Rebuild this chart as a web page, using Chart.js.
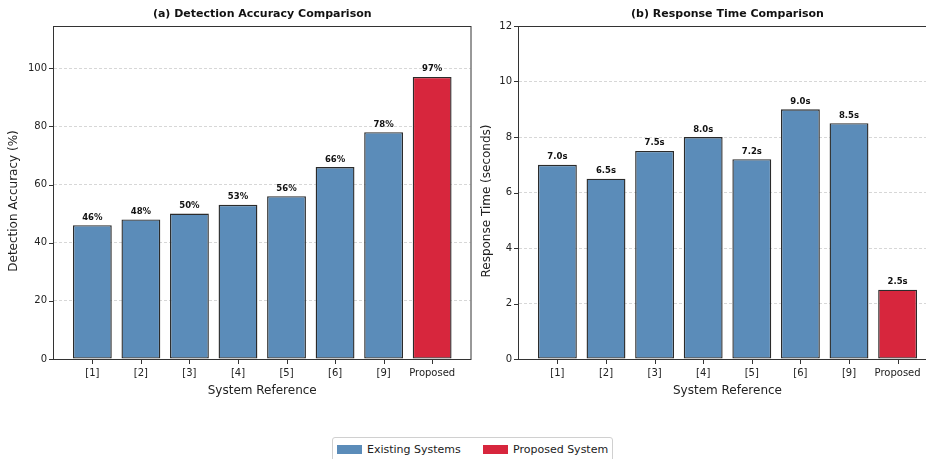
<!DOCTYPE html>
<html>
<head>
<meta charset="utf-8">
<script src="https://cdn.jsdelivr.net/npm/chart.js@4/dist/chart.umd.min.js"></script>
<style>
  html, body { margin: 0; padding: 0; background: #fff; overflow: hidden; width: 926px; height: 459px; }
  .panel { position: absolute; top: 0; }
  #legend {
    position: absolute; left: 332px; top: 437px; width: 279px; height: 30px;
    border: 1px solid #d0d0d0; border-radius: 3px; background: #fff;
    font-family: 'DejaVu Sans', sans-serif; font-size: 11px; color: #222;
  }
  #legend .item { position: absolute; top: 5px; height: 14px; line-height: 14px; white-space: nowrap; }
  #legend .swatch { position: absolute; top: 2px; left: 0; width: 25px; height: 9px; }
  #legend .label { position: absolute; left: 30px; top: 0; }
</style>
</head>
<body>
<div class="panel" style="left:0;width:472px;height:420px"><canvas id="accChart" width="472" height="420"></canvas></div>
<div class="panel" style="left:470px;width:466px;height:420px"><canvas id="timeChart" width="466" height="420"></canvas></div>
<div id="legend">
  <div class="item" style="left:4px"><span class="swatch" style="background:#5B8CB9"></span><span class="label">Existing Systems</span></div>
  <div class="item" style="left:150px"><span class="swatch" style="background:#D7263D"></span><span class="label">Proposed System</span></div>
</div>
<script>
// Systems compared
const categories = ['[1]', '[2]', '[3]', '[4]', '[5]', '[6]', '[9]', 'Proposed'];
// Detection accuracy per system (%)
const accuracy = [46, 48, 50, 53, 56, 66, 78, 97];
// Response time per system (seconds)
const responseTime = [7.0, 6.5, 7.5, 8.0, 7.2, 9.0, 8.5, 2.5];
// Y-axis tick values
const accuracyTicks = [0, 20, 40, 60, 80, 100];
const timeTicks = [0, 2, 4, 6, 8, 10, 12];

const EXISTING = '#5B8CB9';
const PROPOSED = '#D7263D';
const FONT = "'DejaVu Sans', sans-serif";

Chart.defaults.font.family = FONT;
Chart.defaults.color = '#222';

// Closed box around the plotting area, plus outward tick marks on both axes
const framePlugin = {
  id: 'frame',
  afterDatasetsDraw(chart) {
    const { ctx, chartArea: a, scales } = chart;
    const L = Math.round(a.left), T = Math.round(a.top), B = Math.round(a.bottom);
    ctx.save();
    ctx.setLineDash([]);
    ctx.strokeStyle = '#333';
    ctx.lineWidth = 1;
    ctx.strokeRect(L - 0.5, T + 0.5, Math.round(a.right) - L + 0.5, B - T);
    ctx.fillStyle = '#333';
    scales.x.ticks.forEach(t => {
      const x = Math.round(scales.x.getPixelForValue(t.value));
      ctx.fillRect(x, B + 1, 1, 4);
    });
    scales.y.ticks.forEach(t => {
      const y = Math.round(scales.y.getPixelForValue(t.value));
      ctx.fillRect(L - 5, y, 4, 1);
    });
    ctx.restore();
  }
};

// Value printed above every bar, and the rotated y-axis caption
const valueLabelPlugin = {
  id: 'valueLabels',
  afterDatasetsDraw(chart, args, opts) {
    const { ctx, chartArea: a } = chart;
    const meta = chart.getDatasetMeta(0);
    const data = chart.data.datasets[0].data;
    ctx.save();
    ctx.font = 'bold 8.5px ' + FONT;
    ctx.fillStyle = '#111';
    ctx.textAlign = 'center';
    ctx.textBaseline = 'alphabetic';
    meta.data.forEach((bar, i) => {
      ctx.fillText(opts.format(data[i].y), bar.x, bar.y - 5.5);
    });
    ctx.font = '12px ' + FONT;
    ctx.fillStyle = '#222';
    ctx.textBaseline = 'middle';
    ctx.translate(opts.yTitleX, (a.top + a.bottom) / 2 + 8.5);
    ctx.rotate(-Math.PI / 2);
    ctx.fillText(opts.yTitle, 0, 0);
    ctx.restore();
  }
};

function makeChart(canvasId, values, yTicks, yMax, opts) {
  const points = values.map((v, i) => ({ x: i, y: v }));
  const colors = categories.map(c => c === 'Proposed' ? PROPOSED : EXISTING);
  return new Chart(document.getElementById(canvasId), {
    type: 'bar',
    data: {
      datasets: [{
        data: points,
        backgroundColor: colors,
        borderColor: '#2b2b2b',
        borderWidth: 1.4,
        borderSkipped: false,
        barPercentage: 0.8,
        categoryPercentage: 1.0
      }]
    },
    options: {
      responsive: false,
      animation: false,
      devicePixelRatio: 1,
      layout: { padding: { left: 0, right: opts.padRight, top: 0, bottom: 0 } },
      plugins: {
        legend: { display: false },
        tooltip: { enabled: false },
        title: {
          display: true,
          text: opts.title,
          fullSize: false,
          font: { size: 11, weight: 'bold', family: FONT },
          color: '#111',
          padding: { top: 7.2, bottom: 5.6 }
        },
        valueLabels: { format: opts.format, yTitle: opts.yTitle, yTitleX: opts.yTitleX }
      },
      scales: {
        x: {
          type: 'linear',
          min: -0.79,
          max: 7.79,
          offset: false,
          afterBuildTicks: s => { s.ticks = categories.map((_, i) => ({ value: i })); },
          afterFit: s => { s.height = 61; },
          grid: { offset: false, drawOnChartArea: false, drawTicks: true, tickLength: 4, tickColor: 'rgba(0,0,0,0)' },
          border: { display: false },
          ticks: {
            autoSkip: false, maxRotation: 0, padding: 4,
            font: { size: 10, family: FONT }, color: '#222',
            callback: v => categories[v]
          },
          title: {
            display: true, text: 'System Reference',
            font: { size: 12, family: FONT }, color: '#222',
            padding: { top: 0, bottom: 21.5 }
          }
        },
        y: {
          type: 'linear',
          min: 0,
          max: yMax,
          afterBuildTicks: s => { s.ticks = yTicks.map(v => ({ value: v })); },
          afterFit: s => { s.width = opts.yWidth; },
          grid: {
            color: 'rgba(0,0,0,0.2)', lineWidth: 0.8,
            drawTicks: true, tickLength: 4, tickColor: 'rgba(0,0,0,0)'
          },
          border: { display: false, dash: [3, 2] },
          ticks: { padding: 3, font: { size: 10, family: FONT }, color: '#222' }
        }
      }
    },
    plugins: [framePlugin, valueLabelPlugin]
  });
}

makeChart('accChart', accuracy, accuracyTicks, 114.5, {
  title: '(a) Detection Accuracy Comparison',
  yTitle: 'Detection Accuracy (%)',
  format: v => v + '%',
  yWidth: 54,
  yTitleX: 14,
  padRight: 1.5
});

makeChart('timeChart', responseTime, timeTicks, 12, {
  title: '(b) Response Time Comparison',
  yTitle: 'Response Time (seconds)',
  format: v => v.toFixed(1) + 's',
  yWidth: 49,
  yTitleX: 17,
  padRight: 0
});
</script>
</body>
</html>
